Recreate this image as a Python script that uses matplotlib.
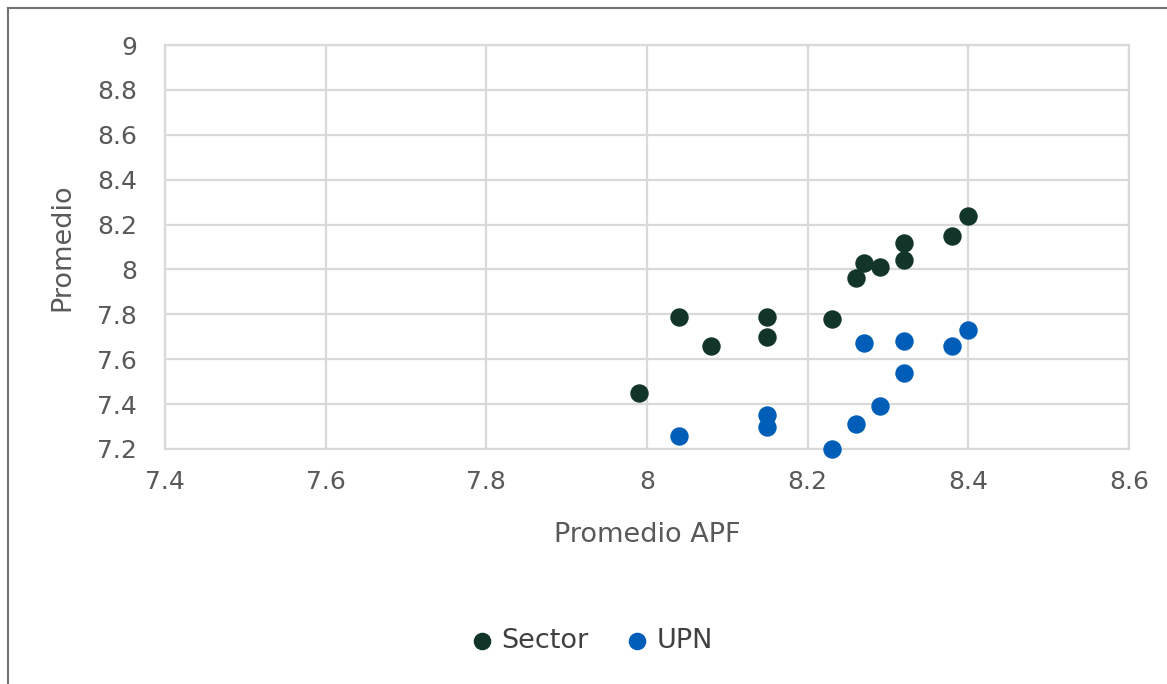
import matplotlib
matplotlib.use("Agg")
import matplotlib.pyplot as plt
from matplotlib.lines import Line2D

# values
sector_x = [7.99, 8.04, 8.08, 8.15, 8.15, 8.23, 8.26, 8.27, 8.29, 8.32, 8.32, 8.38, 8.40]
sector_y = [7.45, 7.79, 7.66, 7.79, 7.70, 7.78, 7.96, 8.03, 8.01, 8.12, 8.04, 8.15, 8.24]
upn_x = [8.04, 8.15, 8.15, 8.23, 8.26, 8.29, 8.32, 8.27, 8.32, 8.38, 8.40]
upn_y = [7.26, 7.35, 7.30, 7.20, 7.31, 7.39, 7.54, 7.67, 7.68, 7.66, 7.73]

x_ticks = [7.4, 7.6, 7.8, 8, 8.2, 8.4, 8.6]
y_ticks = [7.2, 7.4, 7.6, 7.8, 8, 8.2, 8.4, 8.6, 8.8, 9]

sector_color = "#12352a"
upn_color = "#005eb8"
text_color = "#595959"
grid_color = "#d9d9d9"

plt.rcParams["font.family"] = ["DejaVu Sans"]

fig = plt.figure(figsize=(11.67, 6.84), dpi=100)
ax = fig.add_axes([0.1414, 0.3436, 0.826, 0.5906])

ax.scatter(sector_x, sector_y, s=150, color=sector_color, label="Sector", zorder=3, clip_on=False)
ax.scatter(upn_x, upn_y, s=150, color=upn_color, label="UPN", zorder=3, clip_on=False)

ax.set_xlim(7.4, 8.6)
ax.set_ylim(7.2, 9)
ax.set_xticks(x_ticks)
ax.set_yticks(y_ticks)
ax.set_xticklabels([f"{v:g}" for v in x_ticks])
ax.set_yticklabels([f"{v:g}" for v in y_ticks])

ax.grid(True, color=grid_color, linewidth=1.6)
ax.set_axisbelow(True)
for sp in ax.spines.values():
    sp.set_color(grid_color)
    sp.set_linewidth(1.6)

ax.tick_params(axis="both", length=0, labelsize=18, labelcolor=text_color)
ax.tick_params(axis="x", pad=15)
ax.tick_params(axis="y", pad=20)

ax.set_xlabel("Promedio APF", fontsize=19.5, color=text_color, labelpad=20)
ax.set_ylabel("Promedio", fontsize=19.5, color=text_color, labelpad=16)

ax.legend(loc="center", bbox_to_anchor=(592 / 1167, 1 - 641 / 684),
          bbox_transform=fig.transFigure, ncol=2, frameon=False,
          fontsize=19.5, labelcolor="#404040", handlelength=0.8,
          handletextpad=0.3, columnspacing=1.4, markerscale=0.95)

# outer frame (left and top only visible)
fig.add_artist(Line2D([8 / 1167, 8 / 1167], [0, 1 - 8 / 684], color="#767171", linewidth=1.5))
fig.add_artist(Line2D([8 / 1167, 1], [1 - 8 / 684, 1 - 8 / 684], color="#767171", linewidth=1.5))

fig.savefig("out.png", dpi=100)
